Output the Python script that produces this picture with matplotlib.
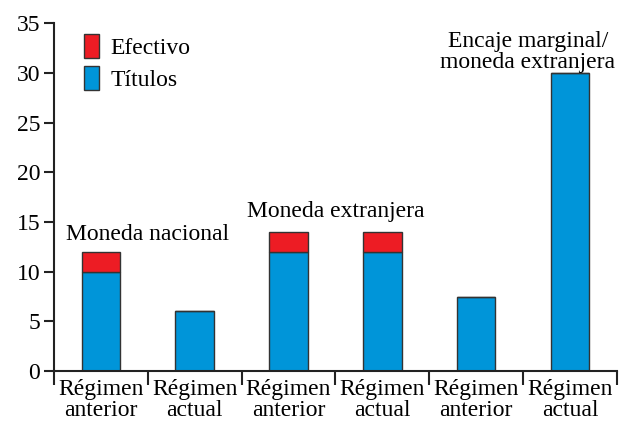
import matplotlib.pyplot as plt
import numpy as np

plt.rcParams['font.family'] = ['Liberation Serif', 'DejaVu Serif']

categorias = ['Régimen\nanterior', 'Régimen\nactual', 'Régimen\nanterior',
              'Régimen\nactual', 'Régimen\nanterior', 'Régimen\nactual']
titulos = [10, 6, 12, 12, 7.4, 30]
efectivo = [2, 0, 2, 2, 0, 0]

rojo = '#ED1C24'
azul = '#0095D9'
borde = '#333333'

fig = plt.figure(figsize=(6.2, 4.22), dpi=100)
ax = fig.add_axes([0.087, 0.121, 0.908, 0.824])

x = np.arange(len(categorias))
ax.bar(x, titulos, width=0.41, color=azul, edgecolor=borde, linewidth=1.0, label='Títulos')
ax.bar(x, efectivo, bottom=titulos, width=0.41, color=rojo, edgecolor=borde,
       linewidth=1.0, label='Efectivo')

ax.set_xlim(-0.5, 5.5)
ax.set_ylim(0, 35)
ax.set_yticks(range(0, 36, 5))
ax.set_xticks(x)
ax.set_xticklabels(categorias, fontsize=17, linespacing=0.98)
ax.tick_params(axis='x', which='major', length=0, pad=6)
ax.set_xticks(np.arange(-0.5, 6, 1), minor=True)
ax.tick_params(axis='x', which='minor', length=10, width=1.5, color='#222222')
ax.tick_params(axis='y', length=7, width=1.5, labelsize=17, color='#222222', pad=3)

for s in ['top', 'right']:
    ax.spines[s].set_visible(False)
for s in ['left', 'bottom']:
    ax.spines[s].set_linewidth(1.5)
    ax.spines[s].set_color('#222222')

ax.text(0.5, 13.7, 'Moneda nacional', ha='center', va='center', fontsize=17)
ax.text(2.5, 16.0, 'Moneda extranjera', ha='center', va='center', fontsize=17)
ax.text(4.55, 32.1, 'Encaje marginal/\nmoneda extranjera', ha='center', va='center',
        fontsize=17, linespacing=1.0)

h, l = ax.get_legend_handles_labels()
ax.legend(h[::-1], l[::-1], loc='upper left', bbox_to_anchor=(0.015, 1.03), frameon=False,
          fontsize=17, handlelength=0.65, handleheight=1.2, handletextpad=0.5,
          labelspacing=0.3)

fig.savefig('out.png', dpi=100)
